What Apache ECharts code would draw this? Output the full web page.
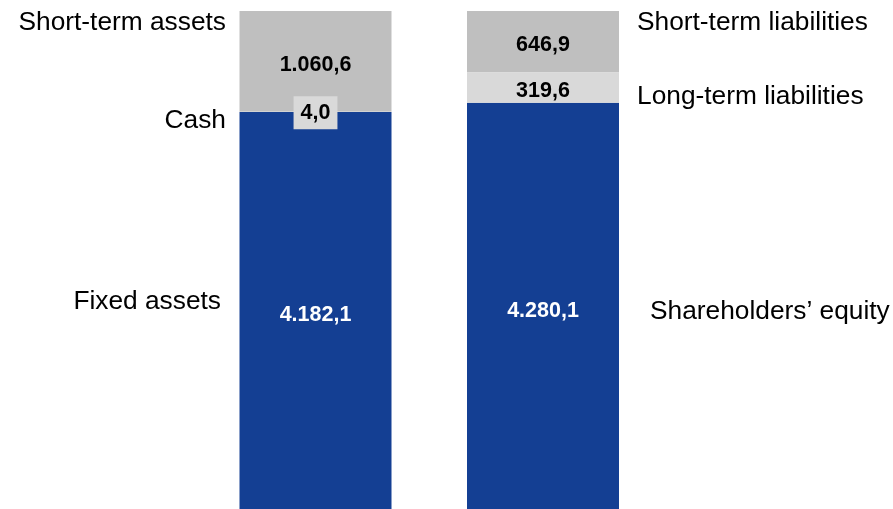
<!DOCTYPE html>
<html>
<head>
<meta charset="utf-8">
<style>
  html, body { margin: 0; padding: 0; background: #fff; }
  #chart { width: 893px; height: 509px; }
</style>
<script src="https://cdn.jsdelivr.net/npm/echarts@6/dist/echarts.min.js"></script>
</head>
<body>
<div id="chart"></div>
<script>
// Balance sheet: assets vs. equity and liabilities (stacked)
const sides = ['Assets', 'Equity & liabilities'];
const baseValues = [4182.1, 4280.1];     // Fixed assets | Shareholders' equity
const middleValues = [4.0, 319.6];       // Cash | Long-term liabilities
const topValues = [1060.6, 646.9];       // Short-term assets | Short-term liabilities
const leftNames = ['Short-term assets', 'Cash', 'Fixed assets'];
const rightNames = ['Short-term liabilities', 'Long-term liabilities', 'Shareholders\u2019 equity'];

const BLUE = '#143F93';
const GREY = '#BFBFBF';
const LIGHT = '#D9D9D9';
const FONT = 'Liberation Sans, Arial, Helvetica, sans-serif';

// 1060.6 -> "1.060,6"
function euro(v) {
  const parts = v.toFixed(1).split('.');
  return parts[0].replace(/\B(?=(\d{3})+(?!\d))/g, '.') + ',' + parts[1];
}

const total = Math.max(
  baseValues[0] + middleValues[0] + topValues[0],
  baseValues[1] + middleValues[1] + topValues[1]
);

const valueLabel = (color, dy) => ({
  show: true,
  position: 'inside',
  offset: [0, dy],
  color: color,
  fontFamily: FONT,
  fontWeight: 'bold',
  fontSize: 21.5,
  formatter: (p) => euro(p.value)
});

const chart = echarts.init(document.getElementById('chart'), null, { renderer: 'canvas' });

chart.setOption({
  animation: false,
  backgroundColor: '#fff',
  grid: { left: 201.75, width: 455, top: 11, bottom: -3 },
  xAxis: {
    type: 'category',
    data: sides,
    show: false
  },
  yAxis: {
    type: 'value',
    min: 0,
    max: total,
    show: false,
    splitLine: { show: false }
  },
  series: [
    {
      name: 'base',
      type: 'bar',
      stack: 'sheet',
      barWidth: 152,
      data: baseValues,
      itemStyle: { color: BLUE },
      label: valueLabel('#fff', 5)
    },
    {
      name: 'middle',
      type: 'bar',
      stack: 'sheet',
      barWidth: 152,
      data: middleValues.map((v, i) => i === 0 ? {
        value: v,
        label: {
          backgroundColor: LIGHT,
          padding: [6, 7, 5, 7],
          offset: [0, 1]
        }
      } : v),
      itemStyle: { color: LIGHT },
      label: valueLabel('#000', 3),
      z: 3
    },
    {
      name: 'top',
      type: 'bar',
      stack: 'sheet',
      barWidth: 152,
      data: topValues,
      itemStyle: { color: GREY },
      label: valueLabel('#000', 3.5)
    }
  ]
});

// Side captions for each segment
const captionStyle = { fontFamily: FONT, fontSize: 26.3, fill: '#000' };
const leftY = [23, 121, 302];
const rightY = [23, 97, 312];
const leftX = [226, 226, 221];
const rightX = [637, 637, 650];
const graphics = [];
leftNames.forEach((n, i) => graphics.push({
  type: 'text', x: leftX[i], y: leftY[i],
  style: Object.assign({ text: n, align: 'right', verticalAlign: 'middle' }, captionStyle)
}));
rightNames.forEach((n, i) => graphics.push({
  type: 'text', x: rightX[i], y: rightY[i],
  style: Object.assign({ text: n, align: 'left', verticalAlign: 'middle' }, captionStyle)
}));
chart.setOption({ graphic: graphics });
</script>
</body>
</html>
